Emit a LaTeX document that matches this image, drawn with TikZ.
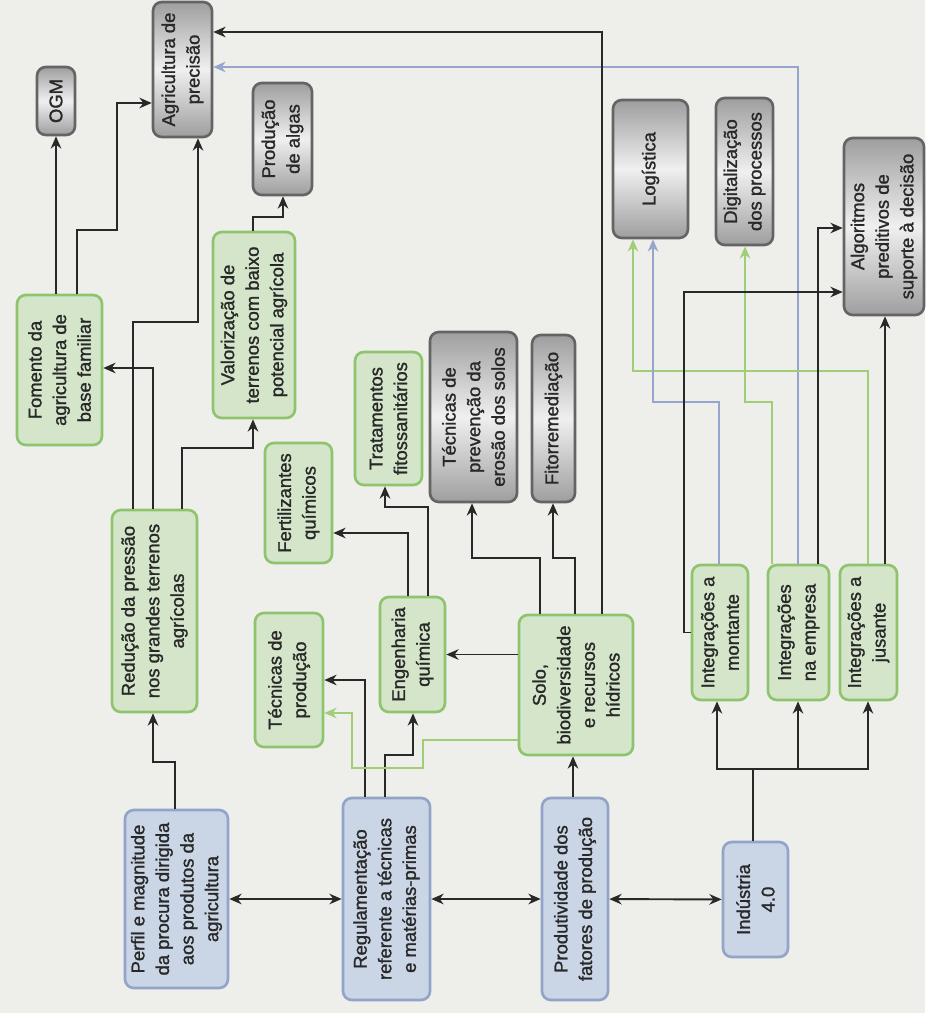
\documentclass[tikz,border=0pt]{standalone}
\usepackage{fontspec}
\setmainfont{Liberation Sans}[FakeBold=1.3]
\usetikzlibrary{arrows.meta}
\definecolor{paper}{RGB}{238,238,234}
\definecolor{gfill}{RGB}{212,229,202}
\definecolor{gline}{RGB}{142,196,110}
\definecolor{bfill}{RGB}{202,213,229}
\definecolor{bline}{RGB}{146,164,200}
\definecolor{greyline}{RGB}{100,100,100}
\definecolor{ink}{RGB}{40,40,40}
\definecolor{gwire}{RGB}{160,205,120}
\definecolor{bwire}{RGB}{150,165,205}
\begin{document}
\begin{tikzpicture}[x=0.02cm, y=-0.02cm,
    box/.style={rotate=90, rounded corners=5pt, line width=1.5pt, align=center,
        inner sep=2pt, text=ink, font=\fontsize{10.5}{14}\selectfont},
    greenbox/.style={box, draw=gline, fill=gfill},
    bluebox/.style={box, draw=bline, fill=bfill},
    greybox/.style={box, draw=greyline, top color=black!38, bottom color=black!38, middle color=black!6},
    arr/.style={draw=ink, line width=1.1pt, -{Stealth[length=7pt,width=6pt]}},
    biarr/.style={draw=ink, line width=1.1pt, {Stealth[length=7pt,width=6pt]}-{Stealth[length=7pt,width=6pt]}},
    garr/.style={draw=gwire, line width=0.9pt, -{Stealth[length=7pt,width=6pt]}},
    barr/.style={draw=bwire, line width=0.9pt, -{Stealth[length=7pt,width=6pt]}}]
    %\draw[lightgray] (0,0) grid[step=50] (925,1013);
    \fill[paper] (0,0) rectangle (925,1013);
    % first column
    \node[greybox, minimum width=2.7cm, minimum height=1.18cm] (agri) at (182.5,69.5) {Agricultura de\\precisão};
    \node[greybox, minimum width=1.36cm, minimum height=0.76cm] (ogm) at (56,101) {OGM};
    \node[greybox, minimum width=2.24cm, minimum height=1.18cm] (algas) at (282.5,139) {Produção\\de algas};
    \node[greenbox, minimum width=3cm, minimum height=1.7cm] (fomento) at (59.5,370) {Fomento da\\agricultura de\\base familiar};
    \node[greenbox, minimum width=3.72cm, minimum height=1.64cm] (valor) at (254,325) {Valorização de\\terrenos com baixo\\potencial agrícola};
    \node[greenbox, minimum width=4.04cm, minimum height=1.7cm] (reducao) at (154.5,611) {Redução da pressão\\nos grandes terrenos\\agrícolas};
    \node[bluebox, minimum width=3.56cm, minimum height=2.06cm] (perfil) at (176.5,899) {Perfil e magnitude\\da procura dirigida\\aos produtos da\\agricultura};
    % second column
    \node[greenbox, minimum width=2.4cm, minimum height=1.34cm] (fert) at (298.5,503) {Fertilizantes\\químicos};
    \node[greenbox, minimum width=2.66cm, minimum height=1.34cm] (trat) at (388.5,418.5) {Tratamentos\\fitossanitários};
    \node[greybox, minimum width=3.4cm, minimum height=1.74cm] (prev) at (473.5,417) {Técnicas de\\prevenção da\\erosão dos solos};
    \node[greybox, minimum width=3.34cm, minimum height=0.86cm] (fito) at (553.5,418.5) {Fitorremediação};
    \node[greenbox, minimum width=2.68cm, minimum height=1.36cm] (tecprod) at (289,680) {Técnicas de\\produção};
    \node[greenbox, minimum width=2.3cm, minimum height=1.3cm] (eng) at (412.5,654.5) {Engenharia\\química};
    \node[bluebox, minimum width=4.04cm, minimum height=1.74cm] (regul) at (386.5,899) {Regulamentação\\referente a técnicas\\e matérias-primas};
    \node[greenbox, minimum width=2.8cm, minimum height=2.28cm] (solo) at (576,685) {Solo,\\biodiversidade\\e recursos\\hídricos};
    \node[bluebox, minimum width=4.04cm, minimum height=1.32cm] (prod) at (575,899) {Produtividade dos\\fatores de produção};
    % third column
    \node[greybox, minimum width=2.76cm, minimum height=1.5cm] (logist) at (650.5,169) {Logística};
    \node[greybox, minimum width=2.94cm, minimum height=1.14cm] (digit) at (744.5,171.5) {Digitalização\\dos processos};
    \node[greybox, minimum width=3.54cm, minimum height=1.6cm] (algo) at (884,226.5) {Algoritmos\\preditivos de\\suporte à decisão};
    \node[greenbox, minimum width=2.7cm, minimum height=1.12cm] (montante) at (720,632.5) {Integrações a\\montante};
    \node[greenbox, minimum width=2.7cm, minimum height=1.22cm] (empresa) at (798.5,632.5) {Integrações\\na empresa};
    \node[greenbox, minimum width=2.7cm, minimum height=1.14cm] (jusante) at (868.5,632.5) {Integrações a\\jusante};
    \node[bluebox, minimum width=2.3cm, minimum height=1.3cm] (ind) at (755.5,899.5) {Indústria\\4.0};
    % connectors
    \draw[biarr] (perfil) -- (regul);
    \draw[biarr] (regul) -- (prod);
    \draw[biarr] (prod) -- (ind);
    \draw[arr] (fomento.east -| ogm) -- (ogm.west);
    \draw[arr] (77,0 |- fomento.east) |- (117,230) |- (agri.north |- 0,103);
    \draw[arr] (133,0 |- reducao.east) |- (198,322) -- (198,0 |- agri.west);
    \draw[arr] (153,0 |- reducao.east) |- (fomento.south |- 0,368);
    \draw[arr] (182,0 |- reducao.east) |- (253,448) -- (253,0 |- valor.west);
    \draw[arr] (253,0 |- valor.east) |- (283,217) -- (283,0 |- algas.west);
    \draw[arr] (175,0 |- perfil.east) |- (153,762) -- (153,0 |- reducao.west);
    \draw[arr] (365,0 |- regul.east) |- (tecprod.south);
    \draw[arr] (385,0 |- regul.east) |- (413,755) -- (413,0 |- eng.west);
    \draw[garr] (solo.north |- 0,740) -| (423,768) -| (352,713) -- (tecprod.south |- 0,713);
    \draw[arr] (solo.north |- eng) -- (eng.south);
    \draw[arr] (408,0 |- eng.east) |- (fert.south |- 0,533);
    \draw[arr] (428,0 |- eng.east) |- (385,507) -- (385,0 |- trat.west);
    \draw[arr] (540,0 |- solo.east) |- (472,558) -- (472,0 |- prev.west);
    \draw[arr] (575,0 |- solo.east) |- (553,558) -- (553,0 |- fito.west);
    \draw[barr] (798,0 |- empresa.east) |- (agri.south |- 0,67);
    \draw[arr] (602,0 |- solo.east) |- (agri.south |- 0,32);
    \draw[arr] (573,0 |- prod.east) -- (573,0 |- solo.west);
    \coordinate (split) at (753,769);
    \draw[arr] (753,0 |- ind.east) -- (split) -| (717,0 |- montante.west);
    \draw[arr] (split) -| (798,0 |- empresa.west);
    \draw[arr] (split) -| (868,0 |- jusante.west);
    \draw[garr] (868,0 |- jusante.east) |- (633,371) -- (633,0 |- logist.west);
    \draw[barr] (719,0 |- montante.east) |- (653,402) -- (653,0 |- logist.west);
    \draw[garr] (772,0 |- empresa.east) |- (745,402) -- (745,0 |- digit.west);
    \draw[arr] (montante.north) -| (684,292) -- (algo.north |- 0,292);
    \draw[arr] (818,0 |- empresa.east) |- (algo.north |- 0,228);
    \draw[arr] (885,0 |- jusante.east) -- (885,0 |- algo.west);
\end{tikzpicture}
\end{document}
